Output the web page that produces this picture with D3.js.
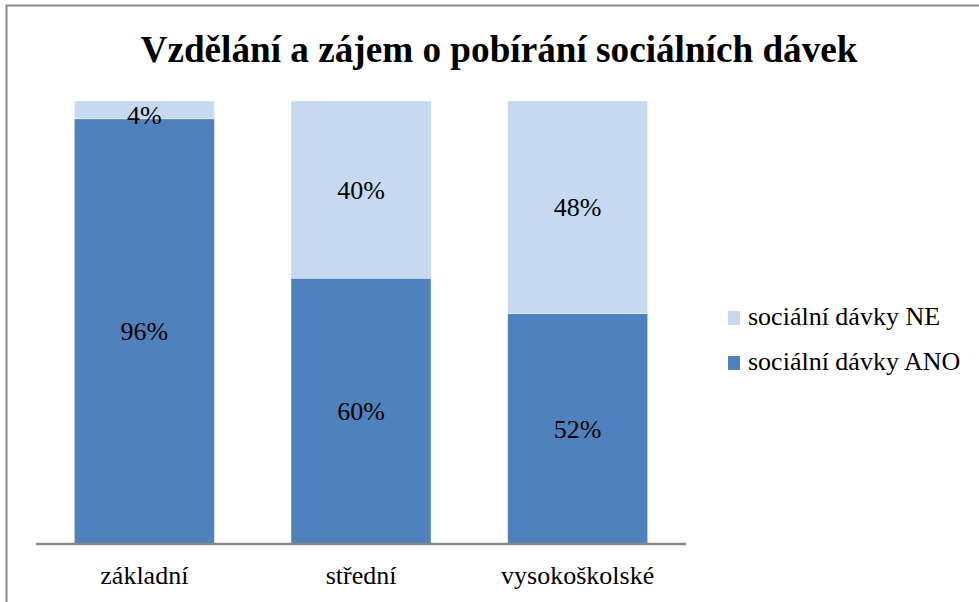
<!DOCTYPE html>
<html>
<head>
<meta charset="utf-8">
<script src="https://cdn.jsdelivr.net/npm/d3@7"></script>
<style>
  body { margin: 0; background: #fff; }
</style>
</head>
<body>
<div id="chart"></div>
<script>
// chart data
const categories = ['základní', 'střední', 'vysokoškolské'];
const seriesNames = ['sociální dávky ANO', 'sociální dávky NE'];
const valuesANO = [96, 60, 52];
const valuesNE = [4, 40, 48];
const colors = ['#4F81BD', '#C6D9F1'];

const width = 979, height = 602;
const plot = { left: 36, right: 686, top: 101, bottom: 544 };
const serif = '"Liberation Serif", "Times New Roman", serif';
const fontSize = 26;

const svg = d3.select('#chart').append('svg')
    .attr('width', width)
    .attr('height', height)
    .style('display', 'block');

// outer frame (cut at right and bottom like the source)
svg.append('path')
    .attr('d', `M6.5,${height} V5.5 H${width}`)
    .attr('fill', 'none')
    .attr('stroke', '#898989')
    .attr('stroke-width', 2);

svg.append('text')
    .attr('x', 499)
    .attr('y', 62)
    .attr('text-anchor', 'middle')
    .attr('font-family', serif)
    .attr('font-weight', 'bold')
    .attr('font-size', 37.2)
    .text('Vzdělání a zájem o pobírání sociálních dávek');

const x = d3.scaleBand()
    .domain(categories)
    .range([plot.left, plot.right])
    .paddingInner(0.3538)
    .paddingOuter(0.1769);

const y = d3.scaleLinear()
    .domain([0, 100])
    .range([plot.bottom, plot.top]);

// stack the two series
const rows = categories.map((c, i) => ({ cat: c, ano: valuesANO[i], ne: valuesNE[i] }));
const stack = d3.stack().keys(['ano', 'ne'])(rows);

const layers = svg.selectAll('.layer')
    .data(stack)
    .enter().append('g')
    .attr('class', 'layer')
    .attr('fill', (d, i) => colors[i]);

layers.selectAll('rect')
    .data(d => d)
    .enter().append('rect')
    .attr('x', d => x(d.data.cat))
    .attr('y', d => y(d[1]))
    .attr('width', x.bandwidth())
    .attr('height', d => y(d[0]) - y(d[1]))
    .attr('stroke', '#fff')
    .attr('stroke-opacity', 0.5)
    .attr('stroke-width', 0.8);

// value labels - centred, but kept from poking out above the plot
layers.selectAll('.val')
    .data(d => d)
    .enter().append('text')
    .attr('class', 'val')
    .attr('x', d => x(d.data.cat) + x.bandwidth() / 2)
    .attr('y', d => Math.max((y(d[0]) + y(d[1])) / 2, y(100) + 14))
    .attr('dy', '0.35em')
    .attr('text-anchor', 'middle')
    .attr('font-family', serif)
    .attr('font-size', fontSize)
    .attr('fill', '#000')
    .text(d => (d[1] - d[0]) + '%');

// category axis
const xAxis = svg.append('g')
    .attr('transform', `translate(0,${plot.bottom})`)
    .call(d3.axisBottom(x).tickSize(0).tickPadding(22));
xAxis.attr('font-family', serif).attr('font-size', fontSize);
xAxis.select('.domain')
    .attr('d', `M${plot.left},0H${plot.right}`)
    .attr('stroke', '#878787')
    .attr('stroke-width', 2.5);
xAxis.selectAll('text')
    .attr('fill', '#000');

// legend (NE on top)
const legendItems = [
    { name: seriesNames[1], color: colors[1] },
    { name: seriesNames[0], color: colors[0] }
];
const legend = svg.selectAll('.legend')
    .data(legendItems)
    .enter().append('g')
    .attr('class', 'legend')
    .attr('transform', (d, i) => `translate(728,${311 + i * 45})`);
legend.append('rect')
    .attr('width', 12)
    .attr('height', 14)
    .attr('fill', d => d.color);
legend.append('text')
    .attr('x', 20)
    .attr('y', 14)
    .attr('font-family', serif)
    .attr('font-size', fontSize)
    .text(d => d.name);
</script>
</body>
</html>
